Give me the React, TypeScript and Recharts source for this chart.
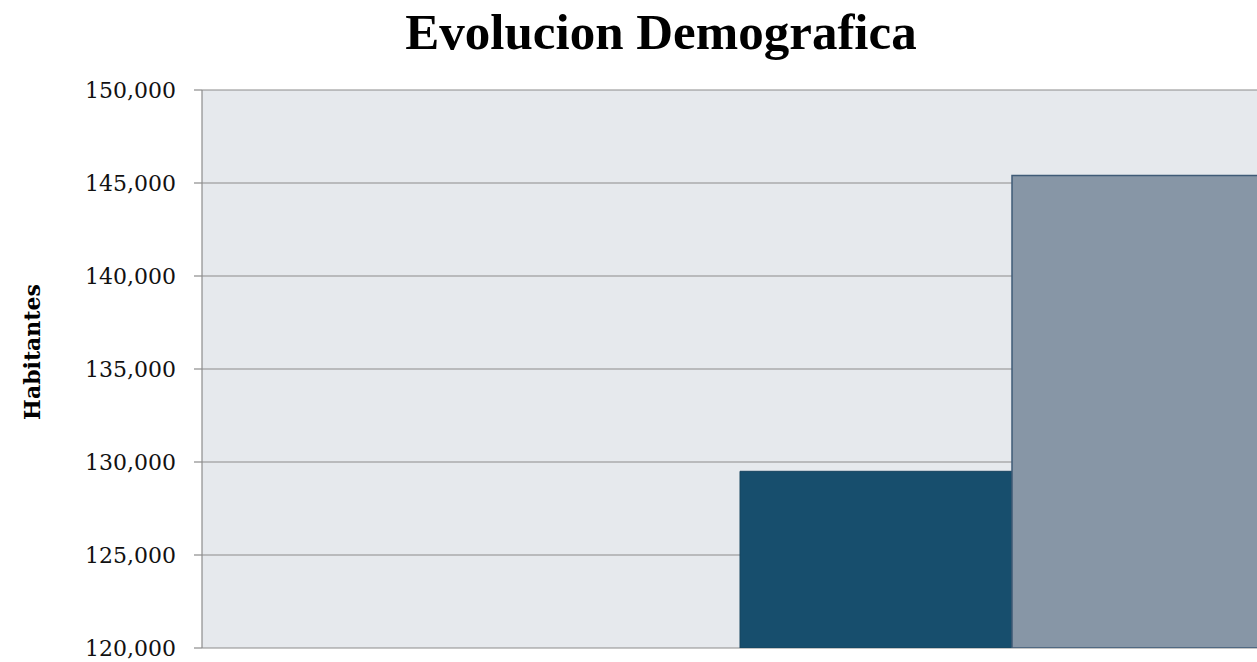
import { Bar, BarChart, CartesianGrid, YAxis, XAxis } from "recharts";

// Population counts per census, one bar each
const categories = ["Habitantes"];
const censoA = [129500];
const censoB = [145400];
const yTicks = [120000, 125000, 130000, 135000, 140000, 145000, 150000];

const data = categories.map((name, i) => ({
  name,
  censoA: censoA[i],
  censoB: censoB[i],
}));

const serif = "'DejaVu Serif', serif";

function AxisTitle() {
  return (
    <text
      x={40}
      y={352}
      transform="rotate(-90 40 352)"
      textAnchor="middle"
      fontFamily={serif}
      fontWeight="bold"
      fontSize={22}
      fill="#000"
    >
      Habitantes
    </text>
  );
}

export default function App() {
  return (
    <div
      style={{
        position: "fixed",
        top: 0,
        left: 0,
        width: 1257,
        height: 662,
        overflow: "hidden",
        background: "#fff",
      }}
    >
      <div
        style={{
          position: "absolute",
          top: 7,
          left: 661,
          transform: "translateX(-50%)",
          whiteSpace: "nowrap",
          fontFamily: "'Liberation Serif', serif",
          fontWeight: "bold",
          fontSize: 51,
          lineHeight: "51px",
          color: "#000",
        }}
      >
        Evolucion Demografica
      </div>
      <BarChart
        width={1822}
        height={662}
        data={data}
        margin={{ top: 90, right: 0, left: 0, bottom: 14 }}
        barGap={0}
        barSize={272}
      >
        <CartesianGrid
          vertical={false}
          fill="#e6e9ed"
          stroke="#8c8c8c"
          strokeWidth={1.2}
        />
        <XAxis dataKey="name" hide />
        <YAxis
          width={202}
          domain={[120000, 150000]}
          ticks={yTicks}
          allowDataOverflow
          tickFormatter={(v: number) => v.toLocaleString("en-US")}
          axisLine={{ stroke: "#8c8c8c", strokeWidth: 1.2 }}
          tickLine={{ stroke: "#8c8c8c", strokeWidth: 1.2 }}
          tickSize={8}
          tickMargin={18}
          tick={{ fill: "#111", fontFamily: serif, fontSize: 22 }}
          label={<AxisTitle />}
        />
        <Bar
          dataKey="censoA"
          fill="#174e6d"
          stroke="#17445f"
          strokeWidth={1}
          isAnimationActive={false}
        />
        <Bar
          dataKey="censoB"
          fill="#8796a6"
          stroke="#3f5b77"
          strokeWidth={1.5}
          isAnimationActive={false}
        />
      </BarChart>
    </div>
  );
}
